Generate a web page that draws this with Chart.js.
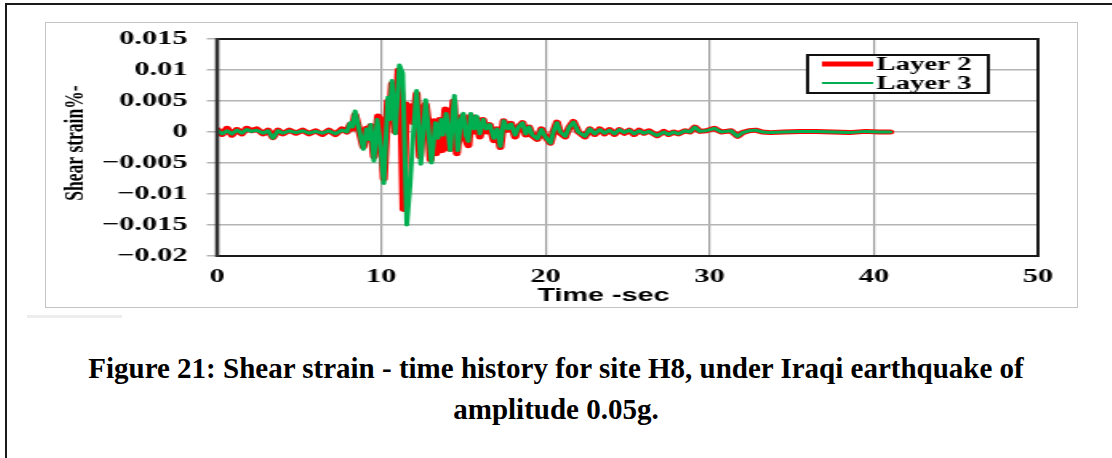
<!DOCTYPE html>
<html><head><meta charset="utf-8">
<script src="https://cdn.jsdelivr.net/npm/chart.js@4/dist/chart.umd.min.js"></script>
<style>
html,body{margin:0;padding:0;background:#fff;width:1112px;height:458px;overflow:hidden;}
#outer{position:absolute;left:5px;top:3px;width:1200px;height:600px;border-left:2px solid #1a1a1a;border-top:2px solid #1a1a1a;}
#frame{position:absolute;left:45px;top:22px;width:1031px;height:284px;border:1px solid #c4c4c4;overflow:hidden;background:#fff;}
#c{position:absolute;left:0;top:0;transform-origin:0 0;transform:scaleX(1.6);}
#artifact{position:absolute;left:27px;top:315px;width:95px;height:3px;background:#ededed;}
#caption{position:absolute;left:0;top:348px;width:1112px;text-align:center;font:bold 29px "Liberation Serif","Times New Roman",serif;line-height:41px;color:#000;}
</style></head><body>
<div id="outer"></div>
<div id="frame"><canvas id="c" width="644" height="284"></canvas></div>
<div id="artifact"></div>
<div id="caption">Figure 21: Shear strain - time history for site H8, under Iraqi earthquake of<br>amplitude 0.05g.</div>
<script>
// ---- data ----
const seriesNames = ['Layer 2', 'Layer 3'];
const time2 = [
 0,0.3,0.6,0.9,1.2,1.5,1.8,2.1,2.4,2.8,
 3.1,3.4,3.7,4.0,4.4,4.8,5.2,5.6,6.0,6.4,
 6.8,7.2,7.6,7.9,8.1,8.25,8.4,8.6,8.9,9.1,
 9.25,9.35,9.55,9.8,9.95,10.15,10.4,10.5,10.65,10.85,
 11.05,11.2,11.35,11.5,11.65,11.8,11.95,12.15,12.35,12.55,
 12.7,12.85,13.0,13.2,13.35,13.55,13.7,13.9,14.15,14.4,
 14.6,14.8,14.95,15.1,15.3,15.45,15.65,15.8,16.0,16.2,
 16.4,16.6,16.85,17.05,17.25,17.45,17.7,17.9,18.15,18.35,
 18.6,18.8,19.0,19.2,19.5,19.75,20.0,20.3,20.5,20.7,
 20.9,21.2,21.45,21.7,22.0,22.4,22.7,23.0,23.3,23.6,
 23.9,24.2,24.5,24.8,25.1,25.4,25.7,26.0,26.3,26.8,
 27.2,27.5,27.8,28.1,28.5,28.8,29.1,29.4,29.8,30.3,
 30.7,31.0,31.3,31.7,32.0,32.4,32.8,33.2,33.7,34.5,
 35.5,36.5,37.5,38.5,39.5,40.3,41.0];
const layer2 = [
 0.0004,-0.0004,0.0006,-0.0005,0.0004,-0.0003,0.0006,0.0002,0.0005,-0.0003,
 0.0003,-0.0009,0.0003,-0.0003,0.0003,-0.0002,0.0003,-0.0003,0.0002,-0.0004,
 0.0003,-0.0004,0.0005,0.0,0.0012,0.0005,0.0028,0.0008,-0.0024,0.0006,
 -0.0010,0.0010,-0.0040,0.0026,0.0018,-0.0076,0.0050,0.0020,0.0078,0.0,
 0.0100,0.0060,-0.0125,0.0045,0.0020,0.0042,0.0015,0.0062,-0.0040,0.0030,
 0.0045,0.0015,-0.0045,0.0018,-0.0035,0.0020,-0.0030,0.0037,-0.0028,0.0050,
 -0.0035,0.0018,0.0026,-0.0010,-0.0022,0.0026,0.0,0.0022,-0.0008,0.0020,
 0.0,0.0012,-0.0014,0.0005,-0.0025,0.0018,0.0003,0.0014,-0.0008,0.0008,
 0.0015,-0.0005,0.0008,-0.0006,-0.0012,0.0005,-0.0008,-0.0018,0.0002,0.0016,
 -0.0002,-0.0008,0.0008,0.0017,0.0,-0.0008,0.0005,-0.0004,0.0005,-0.0003,
 0.0004,-0.0004,0.0004,-0.0002,0.0003,-0.0004,0.0003,-0.0002,0.0002,-0.0006,
 0.0001,-0.0004,0.0,-0.0003,0.0002,0.0,0.0008,0.0001,0.0002,0.0006,
 0.0,0.0001,0.0002,-0.0007,-0.0001,0.0002,0.0003,0.0,-0.0001,0.0,
 0.0001,0.0001,0.0,-0.0001,0.0001,0.0,0.0];
const time3 = [
 0,0.3,0.6,0.9,1.2,1.5,1.8,2.1,2.4,2.8,
 3.1,3.4,3.7,4.0,4.4,4.8,5.2,5.6,6.0,6.4,
 6.8,7.2,7.6,7.9,8.1,8.25,8.4,8.6,8.9,9.1,
 9.25,9.35,9.55,9.75,9.9,10.15,10.4,10.5,10.65,10.85,
 11.1,11.3,11.55,11.75,11.9,12.15,12.4,12.7,12.85,13.05,
 13.3,13.45,13.65,13.75,13.95,14.2,14.45,14.65,14.85,15.0,
 15.15,15.3,15.45,15.65,15.8,16.0,16.2,16.4,16.6,16.85,
 17.05,17.25,17.45,17.7,17.9,18.15,18.35,18.6,18.8,19.0,
 19.2,19.5,19.75,20.0,20.3,20.5,20.7,20.9,21.2,21.45,
 21.7,22.0,22.4,22.7,23.0,23.3,23.6,23.9,24.2,24.5,
 24.8,25.1,25.4,25.7,26.0,26.3,26.8,27.2,27.5,27.8,
 28.1,28.5,28.8,29.1,29.4,29.8,30.3,30.7,31.0,31.3,
 31.7,32.0,32.4,32.8,33.2,33.7,34.5,35.5,36.5,37.5,
 38.5,39.5,40.3,41.0];
const layer3 = [
 0.0003,-0.0003,0.0002,-0.0003,0.0003,-0.0002,0.0004,0.0001,0.0003,-0.0002,
 0.0002,-0.0010,0.0002,-0.0002,0.0002,-0.0001,0.0002,-0.0002,0.0001,-0.0002,
 0.0002,-0.0003,0.0003,0.0,0.0015,0.0008,0.0034,0.0010,-0.0028,0.0005,
 -0.0012,0.0012,-0.0047,0.0020,-0.0010,-0.0083,0.0056,0.0020,0.0083,-0.0003,
 0.0108,0.0095,-0.0150,-0.0085,-0.0020,0.0067,-0.0052,0.0052,0.0010,-0.0050,
 0.0015,-0.0010,0.0020,-0.0005,0.0030,-0.0030,0.0059,-0.0030,0.0020,0.0030,
 -0.0005,-0.0015,0.0030,0.0005,0.0026,-0.0003,0.0020,0.0005,0.0012,-0.0010,
 0.0005,-0.0023,0.0018,0.0005,0.0013,-0.0005,0.0008,0.0015,-0.0003,0.0008,
 -0.0005,-0.0011,0.0004,-0.0008,-0.0018,0.0002,0.0015,0.0,-0.0007,0.0008,
 0.0016,0.0,-0.0007,0.0005,-0.0003,0.0004,-0.0002,0.0003,-0.0003,0.0004,
 -0.0001,0.0003,-0.0003,0.0002,-0.0002,0.0001,-0.0006,0.0,-0.0004,0.0,
 -0.0003,0.0002,0.0,0.0008,0.0001,0.0002,0.0006,0.0,0.0001,0.0002,
 -0.0007,-0.0001,0.0002,0.0003,0.0,-0.0001,0.0,0.0001,0.0001,0.0,
 -0.0001,0.0001,0.0,0.0];
const xMin = 0, xMax = 50, xStep = 10;
const yMin = -0.02, yMax = 0.015, yStep = 0.005;
const xTitle = 'Time -sec';
const yTitle = 'Shear strain%-';

const framePlugin = {
  id: 'plotFrame',
  afterDatasetsDraw(chart) {
    const {ctx, chartArea: a} = chart;
    ctx.save();
    ctx.strokeStyle = '#1a1a1a';
    ctx.lineWidth = 2;
    ctx.strokeRect(a.left, a.top, a.right - a.left, a.bottom - a.top);
    ctx.strokeStyle = '#333';
    ctx.lineWidth = 2.6;
    ctx.beginPath(); ctx.moveTo(a.left, a.top - 1); ctx.lineTo(a.left, a.bottom + 1); ctx.stroke();
    ctx.restore();
  }
};
const boxLegend = {
  id: 'boxLegend',
  afterDraw(chart, args, opts) {
    const {ctx, chartArea: a} = chart;
    const x0 = a.right - 144, y0 = a.top + 16, w = 113, h = 38;
    ctx.save();
    ctx.fillStyle = '#fff';
    ctx.fillRect(x0, y0, w, h);
    ctx.strokeStyle = '#111';
    ctx.lineWidth = 2;
    ctx.strokeRect(x0, y0, w, h);
    chart.data.datasets.forEach((ds, i) => {
      const y = y0 + 9 + i * 19;
      ctx.strokeStyle = ds.borderColor;
      ctx.lineWidth = opts.lineWidths[i];
      ctx.beginPath(); ctx.moveTo(x0 + 9, y); ctx.lineTo(x0 + 41, y); ctx.stroke();
      ctx.fillStyle = '#000';
      ctx.font = 'bold 18px "Liberation Serif", serif';
      ctx.textBaseline = 'middle';
      ctx.textAlign = 'left';
      ctx.fillText(ds.label, x0 + 43, y + 1);
    });
    ctx.restore();
  }
};

const toPts = (ts, vs) => ts.map((t, i) => ({x: t, y: vs[i]}));
const xTickFont = {family: '"Liberation Serif", serif', weight: 'bold', size: 19};
const yTickFont = {family: '"Liberation Serif", serif', weight: 'bold', size: 19, lineHeight: 0.4};

new Chart(document.getElementById('c'), {
  type: 'line',
  data: {
    datasets: [
      {label: seriesNames[0], data: toPts(time2, layer2), borderColor: '#ff0000', borderWidth: 5,
       pointRadius: 0, tension: 0, borderJoinStyle: 'round', borderCapStyle: 'round', order: 2},
      {label: seriesNames[1], data: toPts(time3, layer3), borderColor: '#00b050', borderWidth: 3,
       pointRadius: 0, tension: 0, borderJoinStyle: 'round', borderCapStyle: 'round', order: 1}
    ]
  },
  options: {
    responsive: false, animation: false, devicePixelRatio: 1,
    layout: {padding: {left: 0, top: 16, right: 24, bottom: 0}},
    plugins: {legend: {display: false}, tooltip: {enabled: false}, boxLegend: {lineWidths: [5, 2]}},
    scales: {
      x: {
        type: 'linear', min: xMin, max: xMax,
        ticks: {stepSize: xStep, font: xTickFont, color: '#000', padding: 10, maxRotation: 0, autoSkip: false},
        grid: {color: '#9c9c9c', lineWidth: 1.2, drawTicks: false},
        border: {display: false},
        title: {display: true, text: xTitle + '\u00a0\u00a0\u00a0\u00a0\u00a0\u00a0', color: '#000',
                font: {family: '"Liberation Sans", Arial, sans-serif', weight: 'bold', size: 18}, padding: {top: 0, bottom: 0}},
        afterFit(s) { s.height = 51; }
      },
      y: {
        type: 'linear', min: yMin, max: yMax,
        ticks: {stepSize: yStep, font: yTickFont, color: '#000', padding: 12,
                callback: v => { const r = Math.round(v * 1000) / 1000; return r < 0 ? '\u2212' + String(-r) : String(r); }},
        grid: {color: '#b4b4b4', lineWidth: 1.5, tickLength: 6.5},
        border: {display: false},
        title: {display: true, text: '\u00a0\u00a0' + yTitle, color: '#000',
                font: {family: '"Liberation Serif", serif', weight: 'bold', size: 17.5}, padding: {top: 8, bottom: 0}},
        afterFit(s) { s.width = 107; }
      }
    }
  },
  plugins: [framePlugin, boxLegend]
});
</script>
</body></html>
